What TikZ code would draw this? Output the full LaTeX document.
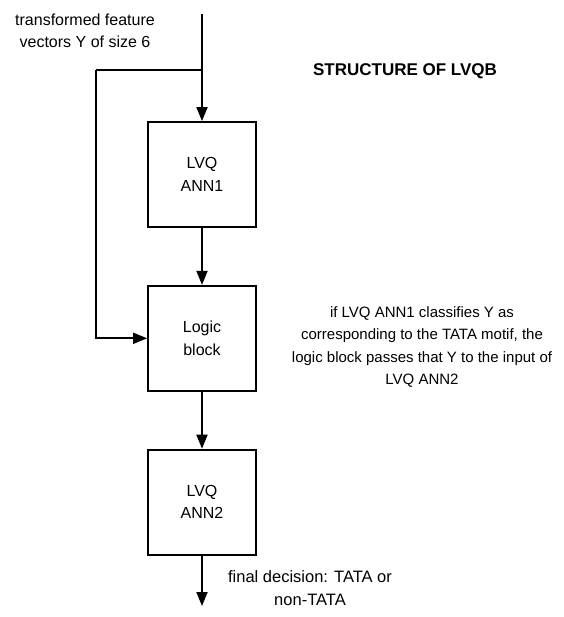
\documentclass[tikz,border=0pt]{standalone}
\usepackage{fontspec}
\setmainfont{Liberation Sans}
\usetikzlibrary{arrows.meta,positioning}

\begin{document}
\begin{tikzpicture}[
    x=1pt, y=-1pt,
    font=\fontsize{16}{22.5}\selectfont,
    >={Triangle[width=11pt,length=14pt]},
    node distance = 57pt,
    % --- node styles ---
    block/.style = {rectangle, draw=black, line width=1.8pt,
                    align=center, minimum width=108pt,
                    minimum height=105pt, inner sep=2pt},
    arrow/.style = {->, line width=1.8pt},
    line/.style  = {line width=1.8pt},
    note/.style  = {align=center, inner sep=0pt},
]
\useasboundingbox (0,0) rectangle (563,617);

%============ BLOCKS ============
\node (ann1) [block] at (202,174.5) {LVQ\\ANN1};
\node (logic) [block, below=of ann1] {Logic\\block};
\node (ann2) [block, below=of logic] {LVQ\\ANN2};

%============ FREE ENDS ============
\coordinate (in) at (202,14);
\coordinate (split) at (202,70);
\coordinate (out) at (202,606);

%============ TEXTS ============
\node (inlbl) [note] at (85,31) {transformed feature\\vectors Y of size 6};
\node (title) [note, font=\fontsize{17}{22}\selectfont\bfseries] at (405,71)
  {STRUCTURE OF LVQB};
\node (logiclbl) [note, font=\fontsize{15}{22.5}\selectfont] at (422,347)
  {if LVQ ANN1 classifies Y as\\corresponding to the TATA motif, the\\
   logic block passes that Y to the input of\\LVQ ANN2};
\node (outlbl) [note, font=\fontsize{16.5}{22.5}\selectfont] at (310,588)
  {final decision: TATA or\\non-TATA};

%============ ARROWS ============
\draw[arrow] (in) -- (ann1);
\draw[arrow] (ann1) -- (logic);
\draw[arrow] (logic) -- (ann2);
\draw[arrow] (ann2) -- (out);

% bypass of Y into the logic block
\draw[line] (split) -- ++(-106,0) coordinate (corner);
\draw[arrow] (corner) |- (logic.west);

\end{tikzpicture}
\end{document}
